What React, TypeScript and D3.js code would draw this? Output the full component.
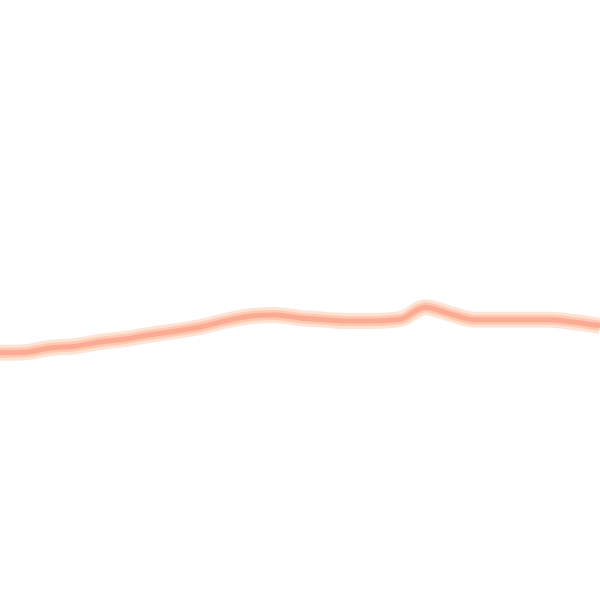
import React from "react";
import * as d3 from "d3";

const xIndex: number[] = [0, 1, 2, 3, 4, 5, 6, 7, 8, 9, 10, 11, 12, 13, 14, 15, 16, 17, 18, 19, 20, 21, 22, 23, 24];
const values: number[] = [41.2, 41.3, 42.0, 42.3, 43.0, 43.5, 44.2, 44.8, 45.5, 46.5, 47.3, 47.5, 47.0, 46.7, 46.5, 46.5, 46.8, 48.8, 47.7, 46.7, 46.7, 46.7, 46.7, 46.3, 45.7];

export default function App() {
  const W = 600, H = 600;
  const x = d3.scaleLinear().domain([0, xIndex.length - 1]).range([0, W]);
  const y = d3.scaleLinear().domain([0, 100]).range([H, 0]);
  const line = d3.line<number>().x((_, i) => x(xIndex[i])).y((d) => y(d)).curve(d3.curveMonotoneX);
  const path = line(values) || "";
  return (
    <svg width={W} height={H} style={{ position: "fixed", left: 0, top: 0, background: "#fff" }}>
      <path d={path} fill="none" stroke="#fee3d4" strokeWidth={16} strokeLinejoin="round" />
      <path d={path} fill="none" stroke="#fdc9b0" strokeWidth={10} strokeLinejoin="round" />
      <path d={path} fill="none" stroke="#fbab93" strokeWidth={5} strokeLinejoin="round" />
    </svg>
  );
}
